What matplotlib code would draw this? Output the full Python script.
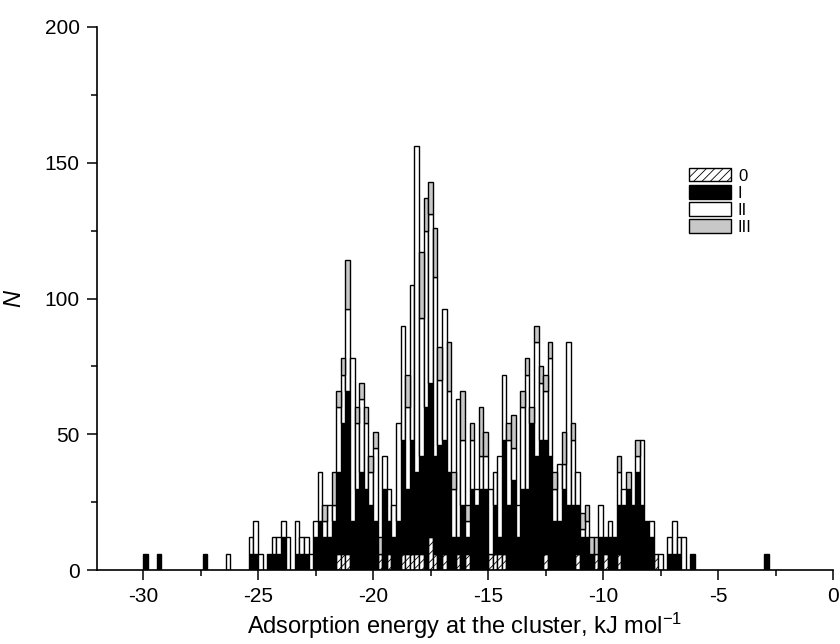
import matplotlib
matplotlib.use("Agg")
import matplotlib.pyplot as plt
from matplotlib.patches import Patch
from matplotlib.ticker import MultipleLocator
import numpy as np

plt.rcParams['font.family'] = ['Liberation Sans', 'DejaVu Sans']
plt.rcParams['mathtext.default'] = 'regular'
plt.rcParams['axes.unicode_minus'] = False
plt.rcParams['hatch.linewidth'] = 0.6

# bin centres (kJ/mol), bin width 0.2
energy = [-29.9, -29.3, -27.3, -26.3,
          -25.3, -25.1, -24.9, -24.7, -24.5, -24.3, -24.1, -23.9, -23.7, -23.5,
          -23.3, -23.1, -22.9, -22.7, -22.5, -22.3, -22.1, -21.9, -21.7, -21.5,
          -21.3, -21.1, -20.9, -20.7, -20.5, -20.3, -20.1, -19.9, -19.7, -19.5,
          -19.3, -19.1, -18.9, -18.7, -18.5, -18.3, -18.1, -17.9, -17.7, -17.5,
          -17.3, -17.1, -16.9, -16.7, -16.5, -16.3, -16.1, -15.9, -15.7, -15.5,
          -15.3, -15.1, -14.9, -14.7, -14.5, -14.3, -14.1, -13.9, -13.7, -13.5,
          -13.3, -13.1, -12.9, -12.7, -12.5, -12.3, -12.1, -11.9, -11.7, -11.5,
          -11.3, -11.1, -10.9, -10.7, -10.5, -10.3, -10.1, -9.9, -9.7, -9.5,
          -9.3, -9.1, -8.9, -8.7, -8.5, -8.3, -8.1, -7.9, -7.7, -7.5,
          -7.3, -7.1, -6.9, -6.7, -6.5, -6.3, -6.1,
          -2.9]

n_0 = [0, 0, 0, 0,
       0, 0, 0, 0, 0, 0, 0, 0, 0, 0,
       0, 0, 0, 0, 0, 0, 0, 0, 0, 6,
       6, 6, 0, 0, 0, 0, 0, 0, 6, 0,
       6, 0, 0, 6, 6, 6, 6, 6, 0, 12,
       6, 0, 6, 0, 0, 6, 0, 6, 0, 0,
       0, 0, 6, 6, 6, 6, 0, 0, 0, 0,
       0, 0, 0, 0, 6, 0, 0, 0, 0, 0,
       0, 6, 0, 0, 0, 6, 0, 6, 0, 0,
       6, 0, 0, 0, 0, 0, 0, 0, 6, 0,
       0, 0, 0, 0, 0, 0, 0,
       0]

n_I = [6, 6, 6, 0,
       6, 6, 0, 0, 6, 6, 6, 12, 0, 0,
       6, 6, 6, 0, 12, 18, 12, 12, 18, 30,
       48, 60, 18, 30, 36, 30, 24, 18, 0, 30,
       12, 12, 18, 42, 24, 42, 30, 36, 60, 57,
       36, 46, 42, 36, 12, 6, 24, 6, 30, 24,
       30, 30, 0, 18, 6, 42, 24, 33, 12, 30,
       30, 54, 42, 48, 42, 42, 18, 18, 30, 24,
       24, 18, 12, 12, 6, 0, 12, 6, 12, 12,
       18, 24, 30, 24, 36, 24, 18, 12, 0, 0,
       0, 6, 6, 6, 0, 0, 6,
       6]

n_II = [0, 0, 0, 6,
        6, 12, 6, 0, 0, 6, 6, 6, 12, 0,
        12, 6, 6, 6, 6, 18, 6, 12, 6, 24,
        18, 30, 60, 24, 27, 24, 12, 27, 0, 12,
        12, 12, 36, 42, 30, 57, 120, 51, 65, 62,
        66, 24, 48, 30, 18, 51, 24, 6, 18, 6,
        12, 12, 24, 12, 30, 24, 24, 12, 12, 30,
        42, 0, 42, 21, 18, 36, 12, 21, 9, 60,
        24, 12, 3, 6, 0, 0, 12, 0, 6, 0,
        12, 6, 0, 0, 6, 24, 0, 6, 0, 6,
        0, 6, 12, 6, 12, 0, 0,
        0]

n_III = [0, 0, 0, 0,
         0, 0, 0, 0, 0, 0, 0, 0, 0, 0,
         0, 0, 0, 0, 0, 0, 6, 0, 12, 6,
         6, 18, 0, 6, 6, 6, 6, 6, 6, 0,
         0, 0, 0, 0, 12, 0, 0, 24, 12, 12,
         18, 12, 0, 18, 6, 0, 18, 6, 6, 0,
         18, 9, 0, 0, 0, 0, 6, 12, 0, 6,
         6, 6, 6, 6, 6, 6, 6, 0, 12, 0,
         6, 0, 6, 6, 6, 6, 0, 0, 0, 0,
         6, 0, 6, 0, 6, 0, 0, 0, 0, 0,
         0, 0, 0, 0, 0, 0, 0,
         0]

labels = ['0', 'I', 'II', 'III']
faces = ['white', 'black', 'white', '#c8c8c8']
hatches = ['////', None, None, None]

fig = plt.figure(figsize=(8.4, 6.44), dpi=100)
ax = fig.add_axes([97 / 840, 1 - 570 / 644, (833 - 97) / 840, (570 - 27) / 644])

e = np.array(energy)
bottom = np.zeros(len(e))
for vals, fc, ht in zip([n_0, n_I, n_II, n_III], faces, hatches):
    v = np.array(vals, dtype=float)
    m = v > 0
    ax.bar(e[m], v[m], width=0.2, bottom=bottom[m], color=fc, edgecolor='black',
           linewidth=1.0, hatch=ht, align='center')
    bottom += v

ax.set_xlim(-32, 0)
ax.set_ylim(0, 200)
ax.xaxis.set_major_locator(MultipleLocator(5))
ax.xaxis.set_minor_locator(MultipleLocator(2.5))
ax.yaxis.set_major_locator(MultipleLocator(50))
ax.yaxis.set_minor_locator(MultipleLocator(25))
ax.tick_params(which='major', direction='out', length=7.5, width=1.1, labelsize=15, pad=5)
ax.tick_params(which='minor', direction='out', length=4, width=1.1)
for s in ['top', 'right']:
    ax.spines[s].set_visible(False)
for s in ['left', 'bottom']:
    ax.spines[s].set_linewidth(1.2)

ax.set_xlabel('Adsorption energy at the cluster, kJ mol$^{-1}$', fontsize=17, labelpad=3)
ax.set_ylabel('N', fontsize=17, style='italic')
ax.yaxis.set_label_coords(-0.098, 0.5)

handles = [Patch(facecolor=fc, edgecolor='black', hatch=ht, linewidth=1.0)
           for fc, ht in zip(faces, hatches)]
ax.legend(handles, labels, loc='upper left', bbox_to_anchor=(0.804, 0.74),
          frameon=False, fontsize=12, handlelength=2.55, handleheight=0.85,
          labelspacing=0.1, handletextpad=0.4, borderpad=0, borderaxespad=0)

fig.savefig('out.png', dpi=100)
